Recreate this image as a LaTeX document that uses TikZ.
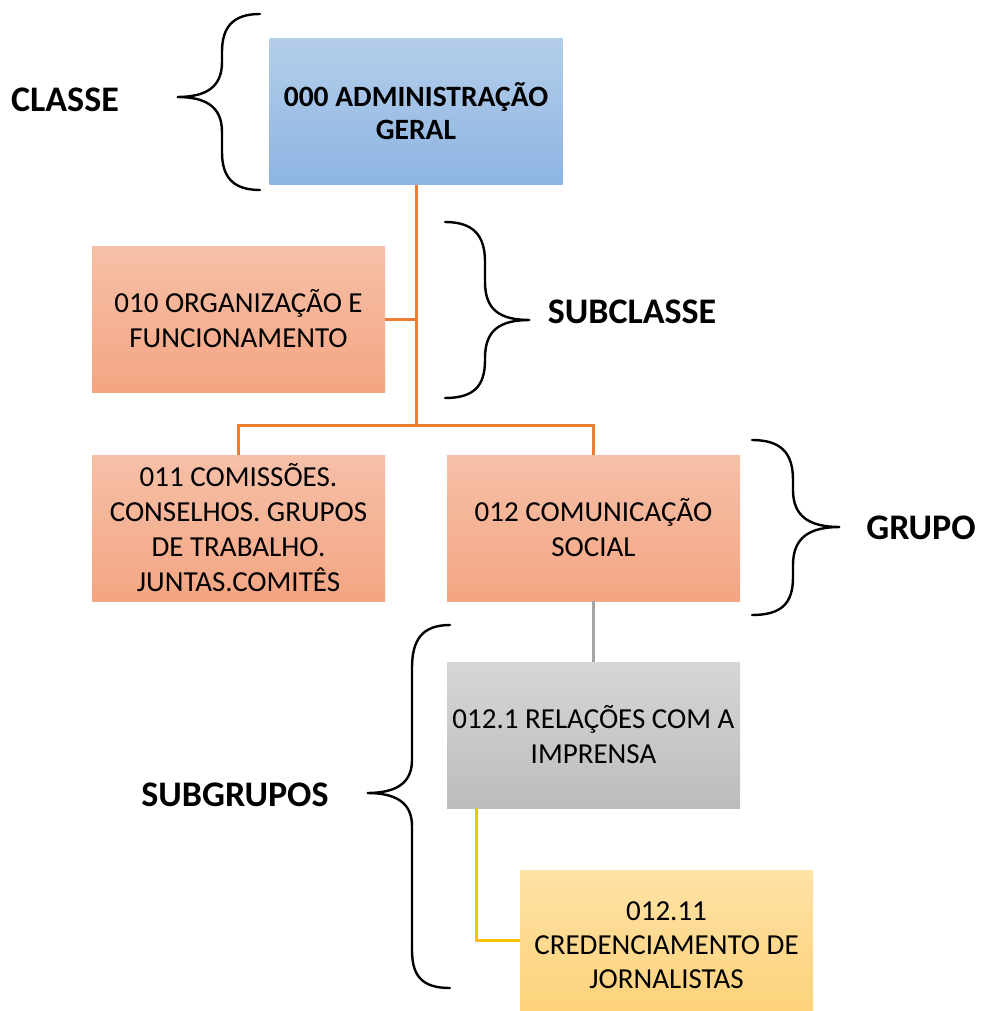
\documentclass[tikz,border=0pt]{standalone}
\usepackage{fontspec}
\setmainfont{Carlito}
\definecolor{blueT}{HTML}{B4CEEA}
\definecolor{blueB}{HTML}{8DB4E2}
\definecolor{salT}{HTML}{F6C0A8}
\definecolor{salB}{HTML}{F4A582}
\definecolor{grayT}{HTML}{D6D6D6}
\definecolor{grayB}{HTML}{BCBCBC}
\definecolor{yelT}{HTML}{FFE2A6}
\definecolor{yelB}{HTML}{FDD27A}
\definecolor{oline}{HTML}{ED7D31}
\definecolor{gline}{HTML}{A5A5A5}
\definecolor{yline}{HTML}{FFC000}
\tikzset{
  box/.style={minimum width=293pt, minimum height=146pt, inner sep=0pt, align=center,
    font=\fontsize{29}{35}\selectfont},
  bluebox/.style={box, top color=blueT, bottom color=blueB, font=\fontsize{29.5}{33}\selectfont\bfseries},
  salbox/.style={box, top color=salT, bottom color=salB},
  graybox/.style={box, top color=grayT, bottom color=grayB},
  yelbox/.style={box, top color=yelT, bottom color=yelB},
  boxtext/.style={inner sep=0pt, align=center, font=\fontsize{29}{34}\selectfont},
  lab/.style={font=\fontsize{36}{40}\selectfont\bfseries, inner sep=0pt},
  conn/.style={line width=3pt},
  bracestyle/.style={line width=2.4pt, black, line cap=round}
}
\begin{document}
\begin{tikzpicture}[x=1pt,y=-1pt]
\useasboundingbox (0,0) rectangle (981,1011);
% boxes
\node[bluebox] (top) at (416,111.5) {000 ADMINISTRAÇÃO\\GERAL};
\node[salbox] (n010) at (238.5,319) {010 ORGANIZAÇÃO E\\FUNCIONAMENTO};
\node[salbox] (n011) at (238.5,528) {011 COMISSÕES.\\CONSELHOS. GRUPOS\\DE TRABALHO.\\JUNTAS.COMITÊS};
\node[salbox] (n012) at (593.5,528) {012 COMUNICAÇÃO\\SOCIAL};
\node[graybox] (n0121) at (593.5,735) {012.1 RELAÇÕES COM A\\IMPRENSA};
\node[yelbox, minimum height=141pt] (n01211) at (666.5,940.5) {};
\node[boxtext] (t01211) at ([yshift=-5pt]n01211.center) {012.11\\CREDENCIAMENTO DE\\JORNALISTAS};
% connectors
\coordinate (a) at (416,425);
\draw[conn, oline] (top.south) -- (a);
\draw[conn, oline] (n010.east) -- (n010.east -| top.south);
\draw[conn, oline] (n011.north) |- (a) -| (n012.north);
\draw[conn, gline] (n012.south) -- (n0121.north);
\draw[conn, yline] ([xshift=30pt]n0121.south west) |- (n01211.west);
% labels
\node[lab] (lclasse) at (65,100) {CLASSE};
\node[lab] (lsubclasse) at (632,312) {SUBCLASSE};
\node[lab] (lgrupo) at (921,528) {GRUPO};
\node[lab] (lsubgrupos) at (235,795) {SUBGRUPOS};
% braces
\draw[bracestyle] (260,14) .. controls (232,14) and (222,28) .. (222,52) -- (222,62)
  .. controls (222,88) and (205,97) .. (177,97)
  .. controls (205,97) and (222,106) .. (222,132) -- (222,152)
  .. controls (222,176) and (232,190) .. (260,190);
\draw[bracestyle] (445,222) .. controls (474,222) and (485,236) .. (485,262) -- (485,282)
  .. controls (485,310) and (500,320) .. (530,320)
  .. controls (500,320) and (485,330) .. (485,358) -- (485,360)
  .. controls (485,386) and (474,398) .. (445,398);
\draw[bracestyle] (752,440) .. controls (782,440) and (793,454) .. (793,480) -- (793,490)
  .. controls (793,517) and (810,527) .. (840,527)
  .. controls (810,527) and (793,537) .. (793,565) -- (793,577)
  .. controls (793,603) and (782,615) .. (752,615);
\draw[bracestyle] (450,625) .. controls (422,625) and (412,640) .. (412,668) -- (412,760)
  .. controls (412,784) and (395,793) .. (367,793)
  .. controls (395,793) and (412,802) .. (412,826) -- (412,950)
  .. controls (412,976) and (422,988) .. (450,988);
\end{tikzpicture}
\end{document}
